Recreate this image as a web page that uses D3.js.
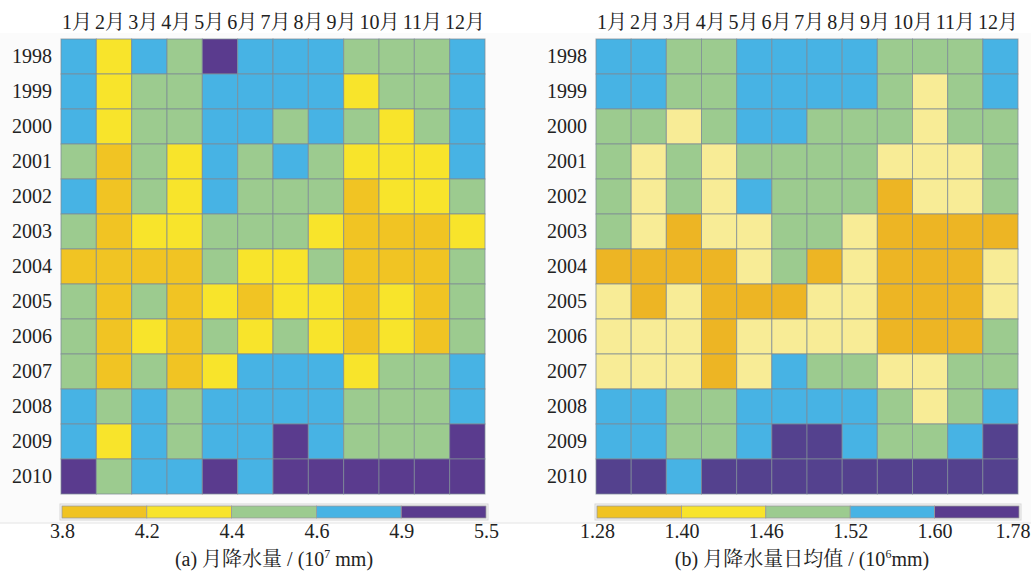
<!DOCTYPE html>
<html>
<head>
<meta charset="utf-8">
<script src="https://cdn.jsdelivr.net/npm/d3@7"></script>
<style>
  body { margin: 0; background: #fff; }
  svg text { font-family: "Liberation Serif", "Noto Serif CJK SC", "Noto Sans CJK SC", serif; fill: #222; }
</style>
</head>
<body>
<svg id="chart" width="1031" height="572"></svg>
<script>
// data: class index 0..4 per cell (year x month)
var months = ["1月","2月","3月","4月","5月","6月","7月","8月","9月","10月","11月","12月"];
var years = ["1998","1999","2000","2001","2002","2003","2004","2005","2006","2007","2008","2009","2010"];

var ticksA = ["3.8","4.2","4.4","4.6","4.9","5.5"];
var ticksB = ["1.28","1.40","1.46","1.52","1.60","1.78"];

var gridA = [
  [3,1,3,2,4,3,3,3,2,2,2,3],
  [3,1,2,2,3,3,3,3,1,2,2,3],
  [3,1,2,2,3,3,2,3,2,1,2,3],
  [2,0,2,1,3,2,3,2,1,1,1,3],
  [3,0,2,1,3,2,2,2,0,1,1,2],
  [2,0,1,1,2,2,2,1,0,0,0,1],
  [0,0,0,0,2,1,1,2,0,0,0,2],
  [2,0,2,0,1,0,1,1,0,1,0,2],
  [2,0,1,0,2,1,2,1,0,1,0,2],
  [2,0,2,0,1,3,3,3,1,2,2,3],
  [3,2,3,2,3,3,3,3,2,2,2,3],
  [3,1,3,2,3,3,4,3,2,2,2,4],
  [4,2,3,3,4,3,4,4,4,4,4,4]
];

var gridB = [
  [3,3,2,2,3,3,3,3,2,2,2,3],
  [3,3,2,2,3,3,3,3,2,1,2,3],
  [2,2,1,2,3,3,2,2,2,1,2,2],
  [2,1,2,1,2,2,2,2,1,1,1,2],
  [2,1,2,1,3,2,2,2,0,1,1,2],
  [2,1,0,1,1,2,2,1,0,0,0,0],
  [0,0,0,0,1,2,0,1,0,0,0,1],
  [1,0,1,0,0,0,1,1,0,0,0,1],
  [1,1,1,0,1,1,1,1,0,0,0,2],
  [1,1,1,0,1,3,2,2,1,1,2,2],
  [3,3,2,2,3,3,3,3,2,1,2,3],
  [3,3,2,2,3,4,4,3,2,2,3,4],
  [4,4,3,4,4,4,4,4,4,4,4,4]
];

var legendColors = ["#f0c322","#f8e42b","#9ccb8f","#47b3e4","#5a3b8e"];
var cellColorsA = ["#f1c423","#f8e42b","#9ccb8f","#47b3e4","#5a3b8e"];
var cellColorsB = ["#edb524","#f8ec96","#9ccb8f","#47b3e4","#54418e"];

var svg = d3.select("#chart");

// faint backdrop panel
svg.append("rect").attr("x", 0).attr("y", 33).attr("width", 1031).attr("height", 490)
  .attr("fill", "#fbfbfb");
svg.append("line").attr("x1", 0).attr("x2", 1031).attr("y1", 523).attr("y2", 523)
  .attr("stroke", "#e4e4e4");

function drawPanel(opts) {
  var g = svg.append("g");

  var x = d3.scaleBand().domain(months).range([opts.left, opts.right]);
  var y = d3.scaleBand().domain(years).range([39, 494]);
  var color = d3.scaleOrdinal().domain([0,1,2,3,4]).range(opts.cellColors);

  var cells = [];
  opts.grid.forEach(function(row, i) {
    row.forEach(function(v, j) {
      cells.push({ year: years[i], month: months[j], v: v });
    });
  });

  g.selectAll(".cell")
    .data(cells)
    .enter().append("rect")
    .attr("class", "cell")
    .attr("x", function(d) { return x(d.month); })
    .attr("y", function(d) { return y(d.year); })
    .attr("width", x.bandwidth())
    .attr("height", y.bandwidth())
    .attr("fill", function(d) { return color(d.v); })
    .attr("stroke", "#7d8b96")
    .attr("stroke-opacity", 0.75)
    .attr("stroke-width", 1);

  // month labels on top
  var mAxis = g.append("g")
    .attr("transform", "translate(0,39)")
    .call(d3.axisTop(x).tickSize(0).tickPadding(10))
    .call(function(a) { a.select(".domain").remove(); });
  var mText = mAxis.selectAll("text")
    .style("font-size", "20px")
    .attr("fill", "#222");

  // the labels sit as one row of text, evenly gapped, across the grid width
  var widths = mText.nodes().map(function(n) { return n.getComputedTextLength(); });
  var span = opts.right - opts.left - 1;
  var gap = (span - d3.sum(widths)) / (widths.length - 1);
  var cursor = opts.left + 1;
  mText.each(function(d, i) {
    var c = cursor + widths[i] / 2;
    cursor += widths[i] + gap;
    d3.select(this).attr("x", c - (x(d) + x.bandwidth() / 2));
  });

  // year labels on left
  g.append("g")
    .attr("transform", "translate(" + opts.left + ",0)")
    .call(d3.axisLeft(y).tickSize(0).tickPadding(9))
    .call(function(a) { a.select(".domain").remove(); })
    .selectAll("text")
    .style("font-size", "20px")
    .attr("fill", "#222");

  // colour bar
  var lx = d3.scaleLinear().domain([0, 5]).range([opts.left + 1, opts.right + 1]);
  var bar = g.append("g");
  bar.append("rect")
    .attr("x", lx(0) - 2).attr("y", 504)
    .attr("width", lx(5) - lx(0) + 4).attr("height", 16)
    .attr("fill", "#f4f4f4").attr("stroke", "#d8d8d8");
  bar.selectAll(".seg")
    .data(legendColors)
    .enter().append("rect")
    .attr("class", "seg")
    .attr("x", function(d, i) { return lx(i); })
    .attr("y", 506)
    .attr("width", lx(1) - lx(0))
    .attr("height", 12)
    .attr("fill", function(d) { return d; })
    .attr("stroke", "#9a9a9a")
    .attr("stroke-width", 0.8);

  var tk = g.append("g")
    .attr("transform", "translate(0,518)")
    .call(d3.axisBottom(lx).tickValues([0,1,2,3,4,5])
      .tickFormat(function(d) { return opts.ticks[d]; })
      .tickSize(0).tickPadding(6))
    .call(function(a) { a.select(".domain").remove(); });
  tk.selectAll("text")
    .style("font-size", "20px")
    .attr("fill", "#222");
  if (opts.clampLast) {
    // keep the last label inside the page
    tk.selectAll(".tick").filter(function(d) { return d === 5; })
      .select("text").attr("text-anchor", "end").attr("x", 1030 - lx(5));
  }

  var t = g.append("text")
    .attr("x", opts.titleX).attr("y", 566)
    .attr("text-anchor", "middle")
    .style("font-size", "20px");
  t.append("tspan").text(opts.title[0]);
  t.append("tspan").attr("dy", -8).style("font-size", "12px").text(opts.title[1]);
  t.append("tspan").attr("dy", 8).text(opts.title[2]);
}

drawPanel({
  left: 61, right: 485, grid: gridA, cellColors: cellColorsA,
  ticks: ticksA, titleX: 274, clampLast: false,
  title: ["(a) 月降水量 / (10", "7", " mm)"]
});

drawPanel({
  left: 596, right: 1018, grid: gridB, cellColors: cellColorsB,
  ticks: ticksB, titleX: 802, clampLast: true,
  title: ["(b) 月降水量日均值 / (10", "6", "mm)"]
});
</script>
</body>
</html>
